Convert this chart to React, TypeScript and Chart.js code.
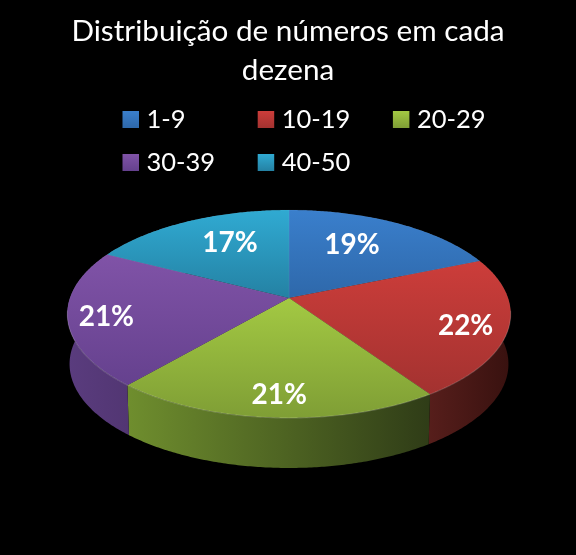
// App.tsx
import { useEffect, useRef } from 'react';
import { Chart, registerables } from 'chart.js';

Chart.register(...registerables);

const categories = ['1-9', '10-19', '20-29', '30-39', '40-50'];
const shares = [18.7, 21.8, 20.8, 21.3, 17.4];

const titleLines = ['Distribuição de números em cada', 'dezena'];

// top face: light, dark
const faceColors = [
  ['#3a7fcc', '#2e68aa'],
  ['#cc3d3a', '#a33230'],
  ['#a3c943', '#7f9e35'],
  ['#8053a7', '#65418e'],
  ['#30aad2', '#2481a3'],
];
// side wall, left to right
const wallColors = [
  ['#1c3e66', '#16304f'],
  ['#561e1b', '#38110f'],
  ['#6f8e2e', '#2f3c17'],
  ['#5a3c7e', '#523673'],
  ['#1f6580', '#1a5268'],
];

// how the 3D disc is projected on the page
const CX = 289;
const CY = 298;
const RX = 219;
const RY = 101.5;
const PERSP = 0.154;
const WALL = 50;
const FONT = 'Lato, "Open Sans", sans-serif';

const project = (a: number) => {
  const den = 1 - PERSP * Math.sin(a);
  return { x: CX + (RX * Math.cos(a)) / den, y: CY + (RY * Math.sin(a)) / den };
};
const projectAt = (a: number, r: number) => {
  const den = 1 - PERSP * r * Math.sin(a);
  return { x: CX + (RX * r * Math.cos(a)) / den, y: CY + (RY * r * Math.sin(a)) / den };
};

const arcPoints = (from: number, to: number) => {
  const pts = [];
  const n = Math.max(2, Math.ceil((to - from) / 0.01));
  for (let i = 0; i <= n; i++) pts.push(project(from + ((to - from) * i) / n));
  return pts;
};

const labelNudges = [[-15, 1], [25, 7], [0, 17], [-29, 5], [14, 1]];

const disc3d = {
  id: 'disc3d',
  beforeDatasetsDraw(chart: any) {
    const ctx = chart.ctx;
    const arcs = chart.getDatasetMeta(0).data;

    // walls first, the top face covers what is behind it
    arcs.forEach((arc: any, i: number) => {
      const pts = arcPoints(arc.startAngle, arc.endAngle);
      const g = ctx.createLinearGradient(Math.min(...pts.map(p => p.x)), 0, Math.max(...pts.map(p => p.x)), 0);
      g.addColorStop(0, wallColors[i][0]);
      g.addColorStop(1, wallColors[i][1]);
      ctx.beginPath();
      pts.forEach((p, k) => (k ? ctx.lineTo(p.x, p.y) : ctx.moveTo(p.x, p.y)));
      [...pts].reverse().forEach(p => ctx.lineTo(CX + (p.x - CX) * 0.99, p.y + WALL));
      ctx.closePath();
      ctx.fillStyle = g;
      ctx.fill();
    });

    arcs.forEach((arc: any, i: number) => {
      const pts = arcPoints(arc.startAngle, arc.endAngle);
      const ys = pts.map(p => p.y).concat(CY);
      const g = ctx.createLinearGradient(0, Math.min(...ys), 0, Math.max(...ys));
      g.addColorStop(0, faceColors[i][0]);
      g.addColorStop(1, faceColors[i][1]);
      ctx.beginPath();
      ctx.moveTo(CX, CY);
      pts.forEach(p => ctx.lineTo(p.x, p.y));
      ctx.closePath();
      ctx.fillStyle = g;
      ctx.fill();
      ctx.strokeStyle = 'rgba(255,255,255,0.05)';
      ctx.lineWidth = 1;
      ctx.stroke();

      // light rim, only on the edge facing the viewer
      const front = pts.filter(p => p.y > CY + 12);
      if (front.length > 1) {
        ctx.beginPath();
        front.forEach((p, k) => (k ? ctx.lineTo(p.x, p.y) : ctx.moveTo(p.x, p.y)));
        ctx.strokeStyle = 'rgba(255,255,255,0.14)';
        ctx.lineWidth = 1.2;
        ctx.stroke();
      }
    });
    return false;
  },
  afterDraw(chart: any) {
    const ctx = chart.ctx;
    const arcs = chart.getDatasetMeta(0).data;
    ctx.save();
    ctx.fillStyle = '#fff';
    ctx.textAlign = 'center';
    ctx.textBaseline = 'middle';
    ctx.font = `bold 28px ${FONT}`;
    arcs.forEach((arc: any, i: number) => {
      const p = projectAt((arc.startAngle + arc.endAngle) / 2, 0.7);
      ctx.fillText(`${Math.round(shares[i])}%`, p.x + labelNudges[i][0], p.y + labelNudges[i][1]);
    });

    // legend, three to a row
    ctx.textAlign = 'left';
    ctx.textBaseline = 'alphabetic';
    ctx.font = `25.5px ${FONT}`;
    categories.forEach((name, i) => {
      const x = 122.5 + (i % 3) * 135.2;
      const y = 111 + Math.floor(i / 3) * 43;
      const g = ctx.createLinearGradient(0, y, 0, y + 17);
      g.addColorStop(0, faceColors[i][0]);
      g.addColorStop(1, faceColors[i][1]);
      ctx.fillStyle = g;
      ctx.fillRect(x, y, 16.5, 17);
      ctx.fillStyle = '#fff';
      ctx.fillText(name, x + 24, y + 16.5);
    });
    ctx.restore();
  },
};

export default function App() {
  const canvasRef = useRef<HTMLCanvasElement>(null);

  useEffect(() => {
    document.body.style.margin = '0';
    document.body.style.background = '#000';
    if (!canvasRef.current) return;

    const chart = new Chart(canvasRef.current, {
      type: 'pie',
      data: {
        labels: categories,
        datasets: [{ data: shares, backgroundColor: faceColors.map(c => c[0]) }],
      },
      options: {
        responsive: false,
        animation: false,
        plugins: {
          legend: { display: false },
          tooltip: { enabled: false },
          title: {
            display: true,
            text: titleLines,
            color: '#fff',
            font: { size: 29.7, family: FONT, weight: 'normal', lineHeight: 1.32 },
            padding: { top: 12, bottom: 0 },
          },
        },
      },
      plugins: [disc3d],
    });

    return () => chart.destroy();
  }, []);

  return (
    <div style={{ width: 576, height: 555, background: '#000' }}>
      <canvas ref={canvasRef} width={576} height={555} style={{ display: 'block' }} />
    </div>
  );
}
